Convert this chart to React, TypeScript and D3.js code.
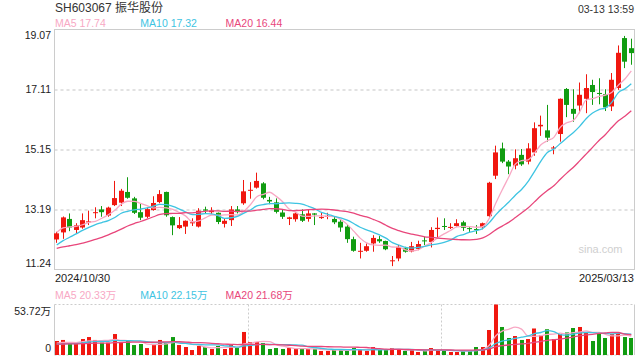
import React from "react";
import * as d3 from "d3";

// ---- data ----
const title = "SH603067 振华股份";
const timeLabel = "03-13 13:59";
const xLabels = ["2024/10/30", "2025/03/13"];
const yTickLabels = ["19.07", "17.11", "15.15", "13.19", "11.24"];
const priceMaLabels = ["MA5 17.74", "MA10 17.32", "MA20 16.44"];
const volMaLabels = ["MA5 20.33万", "MA10 22.15万", "MA20 21.68万"];
const volMaxLabel = "53.72万";
const volZeroLabel = "0";
const volMax = 53.72;
const watermark = "sina.com";

const opens = [
  12.22, 12.45, 12.89, 12.53, 12.61, 12.78, 13.08, 13.2, 13.0, 13.34,
  13.42, 13.77, 13.56, 13.11, 12.96, 13.18, 13.44, 13.77, 12.95, 12.59,
  12.64, 12.76, 12.64, 13.2, 13.11, 13.09, 12.73, 12.85, 13.2, 13.4,
  13.82, 13.91, 14.05, 13.51, 13.43, 13.1, 12.89, 12.88, 13.04, 12.89,
  13.07, 12.93, 12.97, 12.89, 12.8, 12.64, 12.23, 11.83, 11.85, 12.09,
  12.23, 12.17, 11.51, 11.6, 11.93, 11.83, 11.91, 12.19, 12.14, 12.56,
  12.66, 12.61, 12.66, 12.78, 12.59, 12.56, 12.62, 12.98, 14.3, 15.19,
  14.76, 14.63, 14.98, 14.76, 15.06, 15.91, 15.78, 15.2, 15.66, 17.13,
  16.48, 16.59, 16.81, 17.26, 17.0, 16.96, 16.56, 17.16, 18.79, 18.46,
];
const highs = [
  12.47, 12.97, 13.07, 12.75, 13.07, 13.16, 13.27, 13.31, 13.29, 14.13,
  13.87, 14.25, 13.61, 13.38, 13.26, 13.63, 13.83, 13.78, 12.97, 12.95,
  12.84, 12.91, 13.24, 13.29, 13.27, 13.1, 12.9, 13.31, 13.31, 14.16,
  14.09, 14.4, 14.09, 13.61, 13.56, 13.18, 12.96, 13.11, 13.2, 13.18,
  13.08, 13.09, 13.09, 12.96, 12.85, 12.69, 12.31, 12.11, 12.09, 12.36,
  12.33, 12.18, 11.68, 12.04, 11.98, 12.14, 12.18, 12.31, 12.62, 12.94,
  12.91, 12.75, 12.88, 12.83, 12.62, 12.69, 12.77, 14.1, 15.28, 15.38,
  14.81, 15.16, 15.17, 15.36, 16.04, 16.26, 16.61, 15.27, 16.82, 17.16,
  17.12, 17.34, 17.61, 17.43, 17.48, 17.12, 17.65, 18.55, 18.86, 18.77,
];
const lows = [
  12.11, 12.24, 12.49, 12.42, 12.57, 12.69, 12.91, 12.96, 12.96, 13.31,
  13.31, 13.55, 13.05, 12.85, 12.91, 13.16, 13.4, 12.96, 12.36, 12.56,
  12.4, 12.66, 12.61, 13.07, 13.05, 12.72, 12.61, 12.66, 13.07, 13.35,
  13.55, 13.88, 13.53, 13.37, 13.07, 12.89, 12.69, 12.8, 12.79, 12.8,
  12.69, 12.89, 12.88, 12.72, 12.47, 12.11, 11.82, 11.6, 11.82, 11.82,
  12.11, 11.87, 11.35, 11.51, 11.79, 11.8, 11.87, 12.04, 11.96, 12.26,
  12.53, 12.56, 12.64, 12.5, 12.45, 12.4, 12.55, 12.94, 14.19, 14.71,
  14.35, 14.51, 14.62, 14.67, 14.95, 15.6, 15.41, 15.0, 15.41, 16.21,
  16.06, 16.34, 16.34, 16.61, 16.63, 16.41, 16.41, 17.1, 17.81, 17.92,
];
const closes = [
  12.42, 12.94, 12.61, 12.68, 12.85, 12.81, 13.11, 13.11, 13.26, 13.57,
  13.81, 13.58, 13.09, 12.93, 13.21, 13.41, 13.7, 13.01, 12.68, 12.69,
  12.83, 12.78, 13.16, 13.16, 13.16, 12.79, 12.83, 13.2, 13.11, 13.79,
  13.84, 14.13, 13.58, 13.46, 13.12, 12.96, 12.94, 13.07, 12.83, 13.07,
  13.03, 12.95, 12.99, 12.78, 12.61, 12.23, 11.85, 11.85, 12.0, 12.27,
  12.16, 11.9, 11.54, 11.98, 11.82, 12.0, 12.07, 12.17, 12.53, 12.6,
  12.64, 12.63, 12.75, 12.6, 12.57, 12.54, 12.75, 14.07, 15.06, 14.76,
  14.6, 14.87, 14.67, 15.19, 15.85, 15.96, 15.54, 15.22, 16.81, 16.61,
  16.32, 16.94, 17.16, 17.03, 16.98, 16.53, 17.43, 18.31, 18.02, 18.3,
];
// volumes in 万
const volumes = [
  14.9, 16.0, 11.7, 11.7, 17.0, 19.1, 16.0, 13.1, 13.1, 22.3,
  13.1, 15.2, 10.6, 11.7, 7.4, 10.6, 16.0, 13.1, 19.1, 10.6,
  8.5, 5.3, 9.6, 8.5, 6.4, 9.6, 6.4, 10.6, 7.4, 24.5,
  13.8, 13.8, 12.8, 6.4, 7.4, 6.4, 7.4, 6.4, 6.4, 6.4,
  6.4, 4.3, 4.3, 5.3, 5.3, 5.3, 7.4, 5.3, 4.3, 8.5,
  5.3, 5.3, 7.4, 5.3, 4.3, 5.3, 3.2, 4.3, 7.4, 4.3,
  5.3, 3.2, 3.2, 4.3, 4.3, 8.5, 8.5, 26.6, 53.72, 29.8,
  18.1, 20.2, 16.0, 17.0, 28.2, 21.3, 27.4, 17.0, 22.3, 24.0,
  28.7, 29.8, 23.4, 14.9, 23.4, 18.1, 22.3, 23.4, 19.1, 18.1,
];
// sessions before the visible window (estimated from where the MA lines start)
const priorCloses = [
  11.95, 11.9, 12.0, 11.85, 11.7, 11.75, 11.8, 11.65, 11.7, 11.88,
  11.55, 11.5, 11.6, 11.7, 11.82, 12.2, 12.45, 12.6, 12.58,
];
const priorVolumes = [
  12, 10, 11, 13, 12, 11, 12, 13, 11, 12.5, 9, 10, 11, 10, 9.5, 12, 11, 13, 12,
];

// ---- styling ----
const W = 640;
const H = 360;
const FONT = "'Liberation Sans', Arial, 'Noto Sans CJK SC', sans-serif";
const UP = "#f0170f";
const DOWN = "#119c11";
const MA_COLORS = ["#f8a8c4", "#3ec4e2", "#e8467b"];
const MA_PERIODS = [5, 10, 20];
const TEXT = "#222";
const FRAME = "#cccccc";
const GRID = "#e2e2e2";

const PL = 54.5;
const PR = 634.5;
const PT = 29.5;
const PB = 269.5;
const VT = 304.5;
const VB = 355;

function movingAvg(prior: number[], vals: number[], n: number): number[] {
  const all = prior.concat(vals);
  const off = prior.length;
  return vals.map((_, i) => {
    const end = off + i;
    const slice = all.slice(Math.max(0, end - n + 1), end + 1);
    return d3.mean(slice) as number;
  });
}

export default function App() {
  const n = closes.length;
  const idx = d3.range(n);
  const x = d3.scalePoint<number>().domain(idx).range([56.7, 631.3]);
  const yDomainMin = +yTickLabels[yTickLabels.length - 1];
  const yDomainMax = +yTickLabels[0];
  const y = d3.scaleLinear().domain([yDomainMin, yDomainMax]).range([PB, PT]);
  const yv = d3.scaleLinear().domain([0, volMax]).range([VB, VT]);

  const priceMAs = MA_PERIODS.map((p) => movingAvg(priorCloses, closes, p));
  const volMAs = MA_PERIODS.map((p) => movingAvg(priorVolumes, volumes, p));

  const priceLine = d3
    .line<number>()
    .x((_, i) => x(i) as number)
    .y((d) => y(d))
    .curve(d3.curveMonotoneX);
  const volLine = d3
    .line<number>()
    .x((_, i) => x(i) as number)
    .y((d) => yv(d))
    .curve(d3.curveMonotoneX);

  const bodyW = 5;
  const volW = 4;
  const dividers = [1 / 3, 2 / 3].map((f) => Math.round(PL + (PR - PL) * f) + 0.5);

  return (
    <svg
      width={W}
      height={H}
      style={{ position: "absolute", left: 0, top: 0, background: "#fff" }}
      fontFamily={FONT}
    >
      {/* header */}
      <text x={55} y={12} fontSize={12} fill="#333">
        {title}
      </text>
      <text x={634} y={13} fontSize={10.5} fill="#333" textAnchor="end">
        {timeLabel}
      </text>
      {priceMaLabels.map((t, i) => (
        <text key={t} x={55 + i * 85.3} y={27.3} fontSize={10.5} fill={MA_COLORS[i]}>
          {t}
        </text>
      ))}

      {/* price grid */}
      {yTickLabels.slice(1, -1).map((t) => (
        <line
          key={t}
          x1={PL}
          x2={PR}
          y1={Math.round(y(+t)) - 0.5 + 0.5}
          y2={Math.round(y(+t)) - 0.5 + 0.5}
          stroke={GRID}
          strokeWidth={2}
          strokeDasharray="3 3"
        />
      ))}
      <rect x={PL} y={PT} width={PR - PL} height={PB - PT} fill="none" stroke={FRAME} strokeWidth={1} />

      {/* y labels */}
      {yTickLabels.map((t, i) => {
        let yy = y(+t) + 3.7;
        if (i === 0) yy = 39;
        if (i === yTickLabels.length - 1) yy = 267.3;
        return (
          <text key={t} x={51} y={yy} fontSize={10.5} fill={TEXT} textAnchor="end">
            {t}
          </text>
        );
      })}

      {/* watermark */}
      <text x={622.5} y={253.2} fontSize={11} fill="#cfcfcf" textAnchor="end">
        {watermark}
      </text>

      {/* candles */}
      {idx.map((i) => {
        const o = opens[i];
        const c = closes[i];
        const col = c >= o ? UP : DOWN;
        const cx = x(i) as number;
        const bx = Math.round(cx - bodyW / 2);
        const top = y(Math.max(o, c));
        const bot = y(Math.min(o, c));
        const h = Math.max(1, bot - top);
        return (
          <g key={i}>
            <line x1={bx + 2.5} x2={bx + 2.5} y1={y(highs[i])} y2={y(lows[i])} stroke={col} strokeWidth={1} />
            <rect x={bx} y={top} width={bodyW} height={h} fill={col} />
          </g>
        );
      })}

      {/* price MAs */}
      {priceMAs.map((m, k) => (
        <path key={k} d={priceLine(m) || ""} fill="none" stroke={MA_COLORS[k]} strokeWidth={1.3} />
      ))}

      {/* x labels */}
      <text x={55} y={282} fontSize={11} fill={TEXT}>
        {xLabels[0]}
      </text>
      <text x={634} y={282} fontSize={11} fill={TEXT} textAnchor="end">
        {xLabels[1]}
      </text>

      {/* volume header */}
      {volMaLabels.map((t, i) => (
        <text key={t} x={55 + i * 85.3} y={298.5} fontSize={10.5} fill={MA_COLORS[i]}>
          {t}
        </text>
      ))}

      {/* volume frame */}
      <line x1={PL} x2={PR} y1={VT} y2={VT} stroke={FRAME} strokeWidth={1} strokeDasharray="2 2" />
      <line x1={PL} x2={PR} y1={VB} y2={VB} stroke={FRAME} strokeWidth={1} strokeDasharray="2 2" />
      <line x1={PL} x2={PL} y1={VT} y2={VB} stroke={FRAME} strokeWidth={1} />
      <line x1={PR} x2={PR} y1={VT} y2={VB} stroke={FRAME} strokeWidth={1} />
      {dividers.map((dx) => (
        <line key={dx} x1={dx} x2={dx} y1={VT} y2={VB} stroke={FRAME} strokeWidth={1} strokeDasharray="2 2" />
      ))}
      <text x={51} y={315} fontSize={10.5} fill={TEXT} textAnchor="end">
        {volMaxLabel}
      </text>
      <text x={51} y={351.7} fontSize={10.5} fill={TEXT} textAnchor="end">
        {volZeroLabel}
      </text>

      {/* volume bars */}
      {idx.map((i) => {
        const col = closes[i] >= opens[i] ? UP : DOWN;
        const cx = x(i) as number;
        const bx = Math.round(cx - volW / 2);
        const top = yv(volumes[i]);
        return <rect key={i} x={bx} y={top} width={volW} height={VB - top} fill={col} />;
      })}

      {/* volume MAs */}
      {volMAs.map((m, k) => (
        <path key={k} d={volLine(m) || ""} fill="none" stroke={MA_COLORS[k]} strokeWidth={1.3} />
      ))}
    </svg>
  );
}
